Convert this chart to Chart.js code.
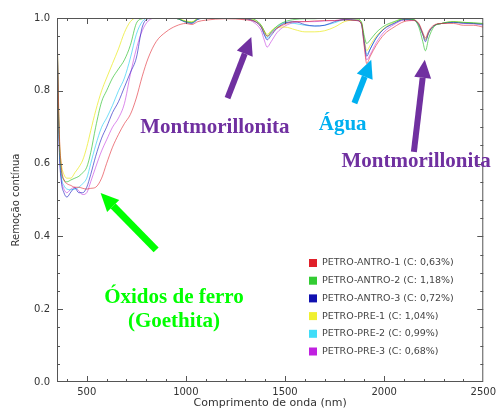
<!DOCTYPE html>
<html>
<head>
<meta charset="utf-8">
<script src="https://cdn.jsdelivr.net/npm/chart.js@4.4.1/dist/chart.umd.min.js"></script>
<style>
  html, body { margin: 0; padding: 0; background: #fff; }
  #wrap { position: relative; width: 500px; height: 410px; }
</style>
</head>
<body>
<div id="wrap"><canvas id="myChart" width="500" height="410"></canvas></div>
<script>
// wavelengths (nm) shared by all samples
var wavelengths = [350,355,362,372,385, 400,420,440,460,480, 500,520,545,575,600,
  630,660,690,720,750, 780,810,850,900,950, 1000,1030,1060,1100,1200,
  1300,1350,1380,1395,1410, 1430,1460,1500,1550,1600, 1650,1700,1750,1800,1860,
  1885,1900,1912,1930,1960, 2000,2050,2100,2150,2175, 2195,2208,2225,2250,2290,
  2350,2400,2450,2500];

var antro1 = [1.0,0.84,0.68,0.59,0.555, 0.545,0.54,0.535,0.535,0.532, 0.53,0.532,0.535,0.56,0.60,
  0.645,0.68,0.71,0.735,0.78, 0.84,0.89,0.935,0.962,0.978, 0.985,0.982,0.99,0.994,0.998,
  0.995,0.99,0.975,0.96,0.95, 0.958,0.972,0.983,0.99,0.99, 0.992,0.993,0.993,0.995,0.993,
  0.985,0.92,0.875,0.895,0.925, 0.955,0.975,0.99,0.993,0.985, 0.96,0.945,0.965,0.98,0.985,
  0.985,0.98,0.98,0.975];
var antro2 = [1.0,0.82,0.66,0.58,0.555, 0.55,0.555,0.56,0.565,0.575, 0.59,0.63,0.70,0.77,0.80,
  0.835,0.86,0.885,0.925,0.985, 0.998,1.0,1.0,1.0,0.999, 0.99,0.988,0.998,1.0,1.0,
  1.0,0.995,0.98,0.965,0.95, 0.962,0.978,0.99,0.996,0.998, 0.998,1.0,0.999,1.0,0.998,
  0.99,0.95,0.93,0.94,0.96, 0.978,0.99,0.998,0.995,0.975, 0.935,0.91,0.945,0.975,0.985,
  0.99,0.988,0.987,0.985];
var antro3 = [1.0,0.80,0.63,0.55,0.52, 0.508,0.522,0.533,0.52,0.52, 0.535,0.57,0.62,0.67,0.70,
  0.74,0.77,0.81,0.85,0.89, 0.975,0.998,1.0,1.0,0.999, 0.988,0.985,0.996,1.0,1.0,
  0.998,0.99,0.975,0.955,0.94, 0.952,0.972,0.986,0.99,0.982, 0.978,0.98,0.99,0.996,0.994,
  0.985,0.935,0.895,0.915,0.945, 0.97,0.985,0.996,0.995,0.982, 0.955,0.935,0.96,0.978,0.985,
  0.988,0.986,0.985,0.983];
var pre1 = [1.0,0.83,0.67,0.6,0.57, 0.56,0.56,0.575,0.59,0.61, 0.645,0.69,0.745,0.80,0.835,
  0.875,0.915,0.96,0.99,1.0, 1.0,1.0,1.0,1.0,0.999, 0.992,0.99,0.998,1.0,1.0,
  0.998,0.993,0.98,0.965,0.955, 0.965,0.975,0.975,0.968,0.962, 0.962,0.965,0.975,0.99,0.995,
  0.988,0.94,0.91,0.925,0.95, 0.972,0.988,0.997,0.996,0.982, 0.955,0.94,0.96,0.978,0.985,
  0.99,0.988,0.986,0.984];
var pre2 = [1.0,0.81,0.65,0.565,0.54, 0.53,0.528,0.53,0.535,0.545, 0.56,0.6,0.65,0.70,0.725,
  0.76,0.80,0.835,0.89,0.955, 0.99,1.0,1.0,1.0,0.999, 0.99,0.987,0.997,1.0,1.0,
  0.998,0.99,0.975,0.955,0.945, 0.958,0.975,0.988,0.985,0.98, 0.978,0.98,0.987,0.995,0.994,
  0.985,0.93,0.90,0.915,0.945, 0.97,0.986,0.996,0.995,0.98, 0.955,0.94,0.96,0.978,0.985,
  0.988,0.987,0.985,0.983];
var pre3 = [1.0,0.79,0.64,0.56,0.53, 0.52,0.53,0.535,0.525,0.515, 0.52,0.55,0.59,0.635,0.665,
  0.70,0.725,0.765,0.845,0.915, 0.965,0.992,1.0,1.0,0.999, 0.99,0.987,0.997,1.0,1.0,
  0.997,0.985,0.965,0.94,0.92, 0.935,0.96,0.978,0.988,0.99, 0.99,0.992,0.993,0.995,0.993,
  0.983,0.925,0.885,0.9,0.932, 0.962,0.982,0.994,0.994,0.98, 0.955,0.94,0.96,0.978,0.985,
  0.988,0.985,0.984,0.98];

var seriesLabels = ['PETRO-ANTRO-1 (C: 0,63%)', 'PETRO-ANTRO-2 (C: 1,18%)', 'PETRO-ANTRO-3 (C: 0,72%)',
  'PETRO-PRE-1 (C: 1,04%)', 'PETRO-PRE-2 (C: 0,99%)', 'PETRO-PRE-3 (C: 0,68%)'];
var seriesValues = [antro1, antro2, antro3, pre1, pre2, pre3];
var lineColors = ['rgba(225,40,50,0.6)', 'rgba(40,190,40,0.65)', 'rgba(20,20,190,0.6)',
  'rgba(235,235,40,0.75)', 'rgba(40,205,245,0.65)', 'rgba(190,40,220,0.55)'];
var markColors = ['#e0202a', '#33cc33', '#1010b0', '#f0f030', '#40ddf8', '#c020e0'];

var xTicks = [500, 1000, 1500, 2000, 2500];
var yTicks = [0, 0.2, 0.4, 0.6, 0.8, 1.0];

// annotation anchors in data units: [wavelength, value]
var notes = [
  {text: ['Montmorillonita'], color: '#7030A0', at: [770, 0.684], align: 'left',
   tail: [1210, 0.78], tip: [1330, 0.948]},
  {text: ['Água'], color: '#00B0F0', at: [1670, 0.692], align: 'left',
   tail: [1850, 0.766], tip: [1935, 0.885]},
  {text: ['Montmorillonita'], color: '#7030A0', at: [1785, 0.591], align: 'left',
   tail: [2150, 0.632], tip: [2205, 0.885]},
  {text: ['Óxidos de ferro', '(Goethita)'], color: '#00FF00', at: [940, 0.218], align: 'center',
   tail: [850, 0.363], tip: [570, 0.519]}
];

var datasets = seriesValues.map(function (vals, i) {
  return {
    label: seriesLabels[i],
    data: wavelengths.map(function (w, j) { return {x: w, y: vals[j]}; }),
    borderColor: lineColors[i],
    borderWidth: 1,
    pointRadius: 0,
    cubicInterpolationMode: 'monotone',
    fill: false
  };
});

function arrow(ctx, x1, y1, x2, y2, color, w) {
  var a = Math.atan2(y2 - y1, x2 - x1);
  var hl = 18, hw = 8.5;
  var bx = x2 - hl * Math.cos(a), by = y2 - hl * Math.sin(a);
  ctx.strokeStyle = color;
  ctx.fillStyle = color;
  ctx.lineWidth = w;
  ctx.beginPath();
  ctx.moveTo(x1, y1);
  ctx.lineTo(bx, by);
  ctx.stroke();
  ctx.beginPath();
  ctx.moveTo(x2, y2);
  ctx.lineTo(bx + hw * Math.sin(a), by - hw * Math.cos(a));
  ctx.lineTo(bx - hw * Math.sin(a), by + hw * Math.cos(a));
  ctx.closePath();
  ctx.fill();
}

var framePlugin = {
  id: 'frame',
  afterDatasetsDraw: function (chart) {
    var ctx = chart.ctx, a = chart.chartArea;
    var xs = chart.scales.x, ys = chart.scales.y;
    ctx.save();
    ctx.strokeStyle = '#555';
    ctx.lineWidth = 1;
    ctx.strokeRect(a.left + 0.5, a.top + 0.5, a.right - a.left - 1, a.bottom - a.top - 1);
    ctx.beginPath();
    for (var w = 400; w <= 2400; w += 100) {
      var len = (w % 500 === 0) ? 6 : 3;
      var px = Math.round(xs.getPixelForValue(w)) + 0.5;
      ctx.moveTo(px, a.bottom); ctx.lineTo(px, a.bottom - len);
      ctx.moveTo(px, a.top); ctx.lineTo(px, a.top + len);
    }
    for (var k = 1; k < 20; k++) {
      var v = k * 0.05;
      var l2 = (k % 4 === 0) ? 6 : 3;
      var py = Math.round(ys.getPixelForValue(v)) + 0.5;
      ctx.moveTo(a.left, py); ctx.lineTo(a.left + l2, py);
      ctx.moveTo(a.right, py); ctx.lineTo(a.right - l2, py);
    }
    ctx.stroke();

    // legend box inside the plot
    ctx.font = "9.5px 'DejaVu Sans'";
    ctx.textBaseline = 'middle';
    ctx.textAlign = 'left';
    for (var i = 0; i < seriesLabels.length; i++) {
      var ly = 263 + i * 17.7;
      ctx.fillStyle = markColors[i];
      ctx.fillRect(309, ly - 4, 8, 8);
      ctx.fillStyle = '#444';
      ctx.fillText(seriesLabels[i], 322, ly);
    }

    // annotations
    ctx.font = "bold 21px 'Liberation Serif'";
    ctx.textBaseline = 'alphabetic';
    notes.forEach(function (n) {
      arrow(ctx, xs.getPixelForValue(n.tail[0]), ys.getPixelForValue(n.tail[1]),
        xs.getPixelForValue(n.tip[0]), ys.getPixelForValue(n.tip[1]), n.color, n.color === '#00FF00' ? 7 : 6);
      ctx.fillStyle = n.color;
      ctx.textAlign = n.align;
      var tx = xs.getPixelForValue(n.at[0]), ty = ys.getPixelForValue(n.at[1]);
      n.text.forEach(function (t, j) { ctx.fillText(t, tx, ty + j * 24); });
    });
    ctx.restore();
  }
};

var element = document.getElementById('myChart').getContext('2d');
var chart = new Chart(element, {
  type: 'line',
  data: {datasets: datasets},
  plugins: [framePlugin],
  options: {
    responsive: false,
    animation: false,
    layout: {padding: {top: 18, right: 13, left: 0, bottom: 0}},
    plugins: {legend: {display: false}, tooltip: {enabled: false}},
    scales: {
      x: {
        type: 'linear', min: 350, max: 2500,
        afterBuildTicks: function (s) { s.ticks = xTicks.map(function (v) { return {value: v}; }); },
        afterFit: function (s) { s.height = 28; },
        grid: {display: false, drawTicks: false},
        border: {display: false},
        ticks: {color: '#333', font: {family: 'DejaVu Sans', size: 10}, padding: 4, maxRotation: 0,
          callback: function (v) { return String(v); }},
        title: {display: true, text: 'Comprimento de onda (nm)', color: '#333',
          font: {family: 'DejaVu Sans', size: 11}, padding: {top: 0, bottom: 0}}
      },
      y: {
        min: 0, max: 1,
        afterBuildTicks: function (s) { s.ticks = yTicks.map(function (v) { return {value: v}; }); },
        afterFit: function (s) { s.width = 57; },
        grid: {display: false, drawTicks: false},
        border: {display: false},
        ticks: {color: '#333', font: {family: 'DejaVu Sans', size: 10}, padding: 7,
          callback: function (v) { return Number(v).toFixed(1); }},
        title: {display: true, text: 'Remoção contínua', color: '#333',
          font: {family: 'DejaVu Sans', size: 10}, padding: {top: 10, bottom: 0}}
      }
    }
  }
});
</script>
</body>
</html>
